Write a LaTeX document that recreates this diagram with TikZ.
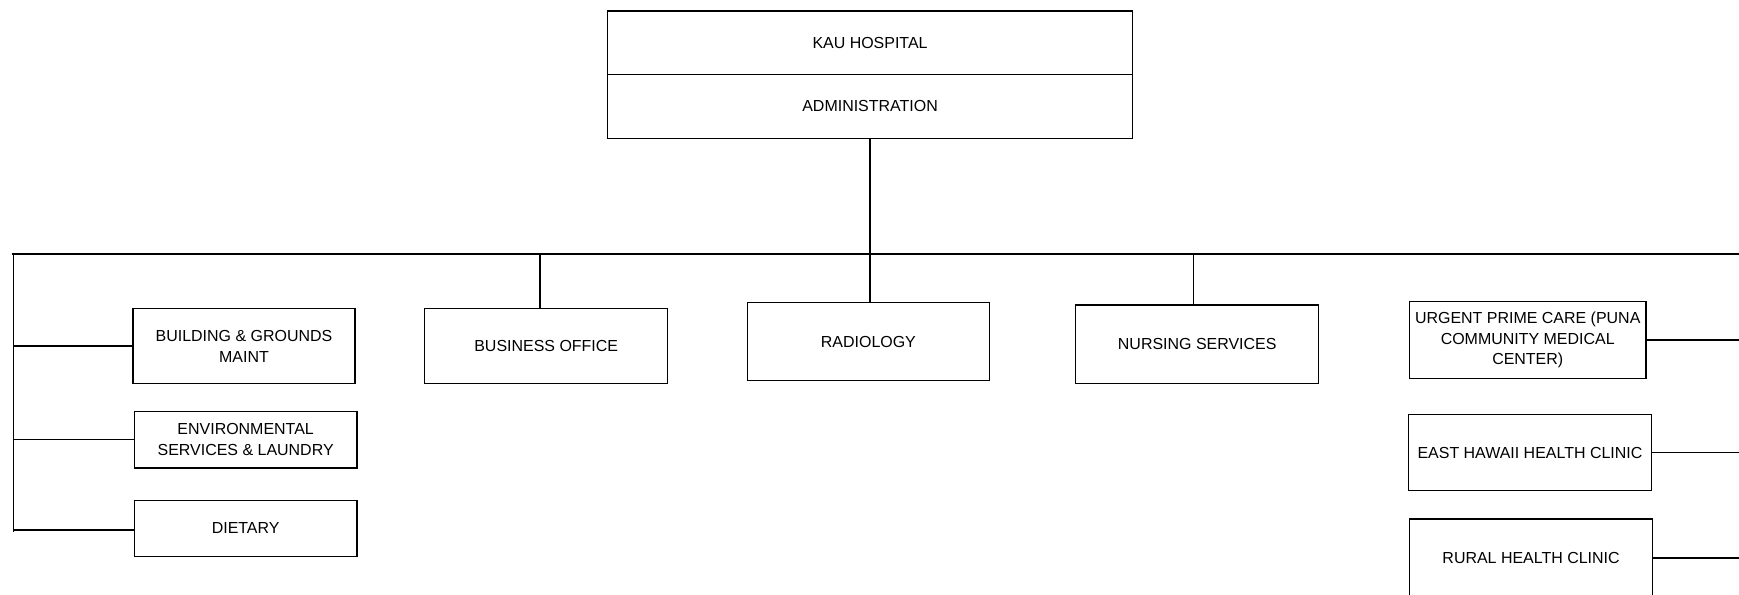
\documentclass[tikz,border=0pt]{standalone}
\usepackage{fontspec}
\setmainfont{Liberation Sans}
\begin{document}
\begin{tikzpicture}[x=0.5pt,y=-0.5pt,
  box/.style={draw, line width=0.6pt, align=center, inner sep=1pt,
    font=\fontsize{7.2}{9.4}\selectfont},
  conn/.style={line width=0.6pt}]
\useasboundingbox (0,0) rectangle (1568,536);
% top
\node[box, minimum width=236.5pt, minimum height=28.5pt] (hosp) at (784.5,38.5) {KAU HOSPITAL};
\node[box, minimum width=236.5pt, minimum height=29pt] (admin) at (784.5,96) {ADMINISTRATION};
% left column
\node[box, minimum width=100pt, minimum height=34pt] (bldg) at (220,312) {BUILDING \& GROUNDS\\MAINT};
\node[box, minimum width=100.5pt, minimum height=25.5pt] (env) at (221.5,396.5) {ENVIRONMENTAL\\SERVICES \& LAUNDRY};
\node[box, minimum width=100.5pt, minimum height=25.5pt] (diet) at (221.5,476.5) {DIETARY};
% middle
\node[box, minimum width=109.5pt, minimum height=34pt] (busoff) at (492.5,312) {BUSINESS OFFICE};
\node[box, minimum width=109pt, minimum height=35pt] (rad) at (783,308) {RADIOLOGY};
\node[box, minimum width=109.5pt, minimum height=35.5pt] (nurs) at (1079.5,310.5) {NURSING SERVICES};
% right column
\node[box, minimum width=106.5pt, minimum height=34.5pt] (urg) at (1377.5,306.5) {URGENT PRIME CARE (PUNA\\COMMUNITY MEDICAL\\CENTER)};
\node[box, minimum width=109.5pt, minimum height=34pt] (east) at (1379.5,408) {EAST HAWAII HEALTH CLINIC};
\node[box, minimum width=109.5pt, minimum height=35pt] (rural) at (1380.5,503) {RURAL HEALTH CLINIC};
% bus coordinates
\coordinate (busL) at (11,229);
\coordinate (busR) at (1568,229);
\coordinate (leftB) at (12,480);
\coordinate (tBus) at (487,229);
\coordinate (tNurs) at (1076,229);
% connectors
\draw[conn] (admin.south) -- (admin.south |- busL);
\draw[conn] (busL) -- (busR);
\draw[conn] (leftB |- busL) -- (leftB);
\draw[conn] (bldg.west) -- (bldg.west -| leftB);
\draw[conn] (env.west) -- (env.west -| leftB);
\draw[conn] (diet.west) ++(0,1.5) coordinate (dw) -- (dw -| leftB);
\draw[conn] (tBus) -- (tBus |- busoff.north);
\draw[conn] (admin.south |- busL) -- (admin.south |- rad.north);
\draw[conn] (tNurs) -- (tNurs |- nurs.north);
\draw[conn] (urg.east) -- (urg.east -| busR);
\draw[conn] (east.east) -- (east.east -| busR);
\draw[conn] (rural.east) -- (rural.east -| busR);
\end{tikzpicture}
\end{document}
